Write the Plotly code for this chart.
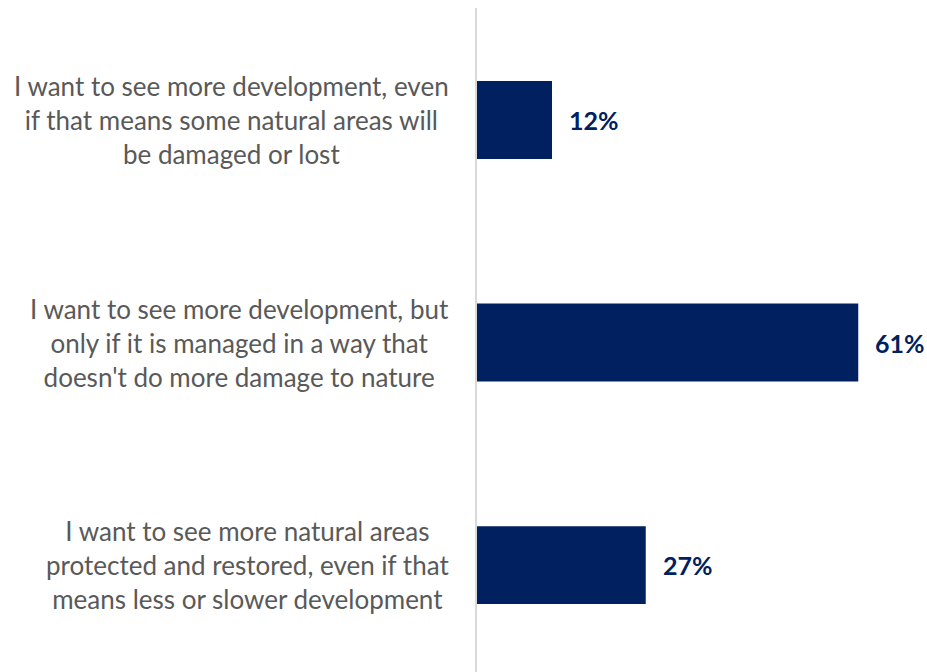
import plotly.graph_objects as go

# Survey answers (top to bottom) and share of respondents
categories = [
    "I want to see more development, even<br>if that means some natural areas will<br>be damaged or lost",
    "I want to see more development, but<br>only if it is managed in a way that<br>doesn't do more damage to nature",
    "I want to see more natural areas<br>protected and restored, even if that<br>means less or slower development",
]
values = [12, 61, 27]
value_labels = [f"{v}%" for v in values]

BAR_COLOR = "#002060"
TEXT_GREY = "#595959"
FONT = "Lato"

fig = go.Figure(
    go.Bar(
        x=values,
        y=categories,
        orientation="h",
        marker=dict(color=BAR_COLOR, line=dict(width=0)),
        width=0.35,
        hoverinfo="skip",
    )
)

# Category labels: block right-aligned against the axis, lines centred
for cat in categories:
    fig.add_annotation(
        x=0, y=cat, xref="x", yref="y",
        text=cat, showarrow=False,
        xanchor="right", yanchor="middle", align="center",
        xshift=-26,
        font=dict(family=FONT, size=26, color=TEXT_GREY),
    )

# Value labels just past the end of each bar
for cat, v, lab in zip(categories, values, value_labels):
    fig.add_annotation(
        x=v, y=cat, xref="x", yref="y",
        text=f"<b>{lab}</b>", showarrow=False,
        xanchor="left", yanchor="middle",
        xshift=15,
        font=dict(family=FONT, size=25, color=BAR_COLOR),
    )

fig.update_layout(
    width=927, height=672,
    margin=dict(l=477, r=0, t=8, b=0),
    paper_bgcolor="white", plot_bgcolor="white",
    showlegend=False,
    xaxis=dict(range=[0, 72], visible=False, fixedrange=True),
    yaxis=dict(
        categoryorder="array", categoryarray=categories,
        range=[2.48, -0.503],
        showticklabels=False, ticks="",
        showgrid=False, zeroline=False,
        showline=True, linecolor="#d9d9d9", linewidth=2,
        fixedrange=True,
    ),
)

fig.write_html("out.html")
